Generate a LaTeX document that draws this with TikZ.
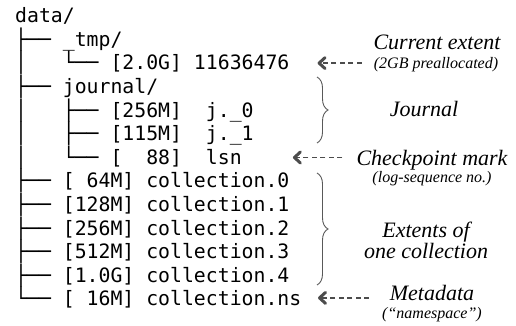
\documentclass[tikz,border=0pt]{standalone}
\usepackage{fontspec}
\setmainfont{Liberation Serif}
\setmonofont{DejaVu Sans Mono}
\usetikzlibrary{arrows.meta,calc,decorations.pathreplacing}

\begin{document}
\begin{tikzpicture}[
    x=1pt, y=-1pt,
    row/.style={anchor=base west, inner sep=0pt,
      font=\ttfamily\fontsize{19.8}{23}\selectfont},
    note/.style={anchor=base, inner sep=0pt,
      font=\itshape\fontsize{22}{21}\selectfont},
    sub/.style={anchor=base, inner sep=0pt,
      font=\itshape\fontsize{16}{18}\selectfont},
    ptr/.style={draw=black!70, line width=1.2pt, dash pattern=on 5pt off 3.5pt,
      -{Straight Barb[length=6pt,width=11pt,line width=3pt,round]}},
    brace/.style={draw=black!65, line width=0.9pt,
      decorate, decoration={brace, amplitude=11pt}}
    ]
    \useasboundingbox (0,0) rectangle (516,326);

    % the directory listing, one node per line
    \foreach \i/\t in {
        0/{data/},
        1/{├──~\_tmp/},
        2/{│~~~└──~[2.0G]~11636476},
        3/{├──~journal/},
        4/{│~~~├──~[256M]~~j.\_0},
        5/{│~~~├──~[115M]~~j.\_1},
        6/{│~~~└──~[~~88]~~lsn},
        7/{├──~[~64M]~collection.0},
        8/{├──~[128M]~collection.1},
        9/{├──~[256M]~collection.2},
        10/{├──~[512M]~collection.3},
        11/{├──~[1.0G]~collection.4},
        12/{└──~[~16M]~collection.ns}}
      \node[row] (r\i) at (15, {22.7+23.6*\i}) {\t};

    % notes
    \node[note] (cur) at (437,50) {Current extent};
    \node[sub] (cursub) at (436,69) {(2GB preallocated)};
    \node[note] (jour) at (424,117) {Journal};
    \node[note] (chk) at (432,165) {Checkpoint mark};
    \node[sub] (chksub) at (432,182) {(log-sequence no.)};
    \node[note, anchor=center, align=center] (ext) at (426,240) {Extents of\\one collection};
    \node[note] (meta) at (432,300) {Metadata};
    \node[sub] (metasub) at (432,318) {(“namespace”)};

    \draw[brace] (317,77) -- (317,143);
    \draw[brace] (317,173) -- (317,285);

    \draw[ptr, shorten <=12pt] (cursub.west |- r2) -- ($(r2.east)+(28,0)$);
    \draw[ptr, shorten <=14pt] (chk.west |- r6) -- ($(r6.east)+(51,0)$);
    \draw[ptr, shorten <=13pt] (metasub.west |- r12) -- ($(r12.east)+(16.5,0)$);
  \end{tikzpicture}
\end{document}
